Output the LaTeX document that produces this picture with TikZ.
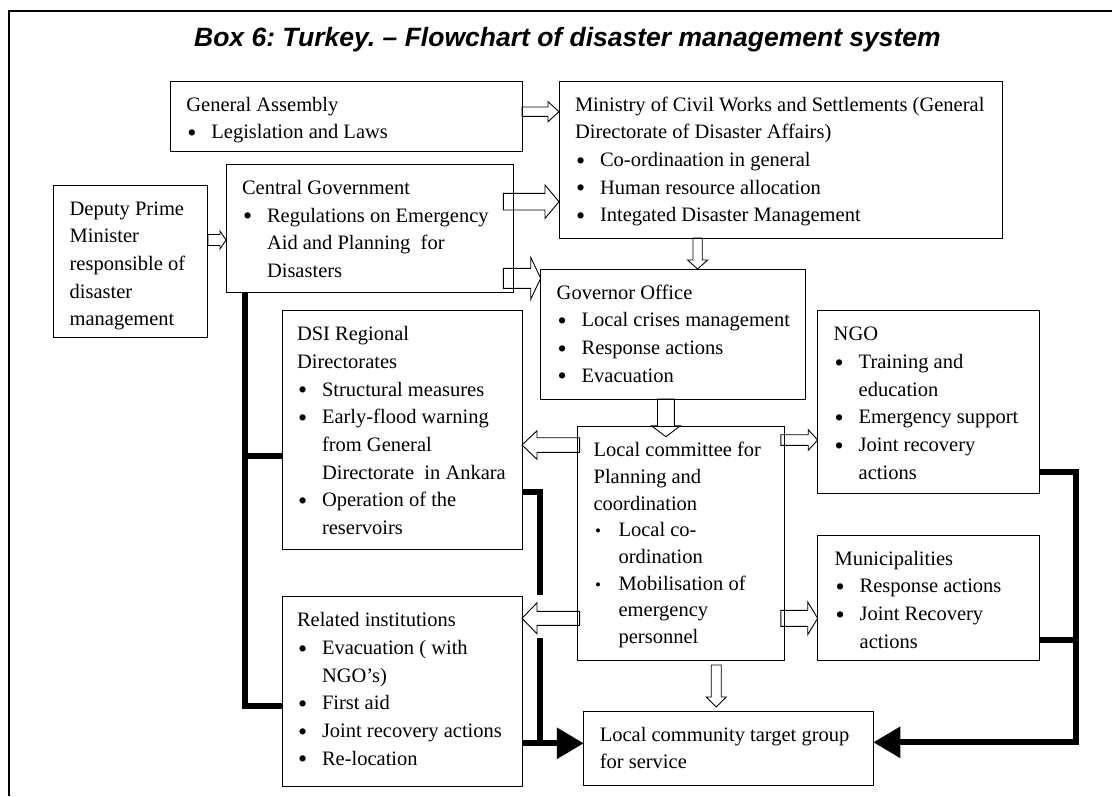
\documentclass[tikz,border=0pt]{standalone}
\usepackage{fontspec}
\setmainfont{Liberation Serif}
\newfontfamily\titlefont{Liberation Sans}
\usetikzlibrary{calc,arrows.meta,backgrounds}
\frenchspacing
\newcommand\TxL[1]{\hbox{#1}}
\newcommand\BuL[1]{\hbox{\hbox to 25pt{\hspace{1pt}\raisebox{-2.6pt}{\fontsize{26}{26}\selectfont\textbullet}\hss}#1}}
\newcommand\SmB[1]{\hbox{\hbox to 25pt{\hspace{1.5pt}{\fontsize{17}{17}\selectfont\textbullet}\hss}#1}}
\newcommand\CoL[1]{\hbox{\hspace{25pt}#1}}
\newcommand\HArr[5]{\draw[hollowarr] let \p1=(#1),\p2=(#2),\n1={sign(\x2-\x1)} in
 (\x1,{\y1+#3pt}) -- ({\x2-\n1*#5pt},{\y1+#3pt}) -- ({\x2-\n1*#5pt},{\y1+#4pt}) -- (\x2,\y1)
 -- ({\x2-\n1*#5pt},{\y1-#4pt}) -- ({\x2-\n1*#5pt},{\y1-#3pt}) -- (\x1,{\y1-#3pt}) -- cycle;}
\newcommand\VArr[5]{\draw[hollowarr] let \p1=(#1),\p2=(#2),\n1={sign(\y2-\y1)} in
 ({\x1-#3pt},\y1) -- ({\x1-#3pt},{\y2-\n1*#5pt}) -- ({\x1-#4pt},{\y2-\n1*#5pt}) -- (\x1,\y2)
 -- ({\x1+#4pt},{\y2-\n1*#5pt}) -- ({\x1+#3pt},{\y2-\n1*#5pt}) -- ({\x1+#3pt},\y1) -- cycle;}
\begin{document}
\begin{tikzpicture}[x=1pt,y=-1pt,
  bx/.style={draw,line width=0.9pt,anchor=north west,inner sep=0pt,outer sep=0pt},
  txt/.style={anchor=base west,inner sep=0pt,outer sep=0pt,font=\fontsize{20.5}{27.7}\selectfont},
  hollowarr/.style={draw,fill=white,line width=0.9pt,line join=miter},
  thickconn/.style={line width=6pt},
  solidtip/.style={-{Triangle[length=27pt,width=30pt]}}]
\useasboundingbox (0,0) rectangle (1112,796);
% frame
\draw[line width=2pt] (9.3,796) -- (9.3,11) -- (1112,11);
% title
\node[anchor=base,inner sep=0pt,font=\fontsize{26.5}{30}\selectfont\titlefont\bfseries\itshape] (title) at (567.5,46) {Box 6: Turkey. – Flowchart of disaster management system};
% boxes
\node[bx,minimum width=154.2pt,minimum height=152pt] (dpm) at (53.6,185) {};
\node[bx,minimum width=351.6pt,minimum height=70.7pt] (ga) at (170.4,81) {};
\node[bx,minimum width=287.3pt,minimum height=128.3pt] (cg) at (226,164.3) {};
\node[bx,minimum width=443.5pt,minimum height=157pt] (mcw) at (559,81) {};
\node[bx,minimum width=265pt,minimum height=130pt] (gov) at (540.7,269) {};
\node[bx,minimum width=240pt,minimum height=238.3pt] (dsi) at (282,310.7) {};
\node[bx,minimum width=221.6pt,minimum height=182.6pt] (ngo) at (817.7,310.7) {};
\node[bx,minimum width=206.7pt,minimum height=234pt] (lc) at (577.6,426.7) {};
\node[bx,minimum width=240pt,minimum height=189.3pt] (rel) at (282,596.7) {};
\node[bx,minimum width=221.6pt,minimum height=125.7pt] (mun) at (817.7,535) {};
\node[bx,minimum width=289.5pt,minimum height=74pt] (lcom) at (583.8,711) {};
% texts
\node[txt] (dpmT) at ([xshift=16pt,yshift=-30pt]dpm.north west) {\vtop{\TxL{Deputy Prime}\TxL{Minister}\TxL{responsible of}\TxL{disaster}\TxL{management}}};
\node[txt] (gaT) at ([xshift=16pt,yshift=-30pt]ga.north west) {\vtop{\TxL{General Assembly}\BuL{Legislation and Laws}}};
\node[txt] (cgT) at ([xshift=16pt,yshift=-30pt]cg.north west) {\vtop{\TxL{Central Government}\BuL{Regulations on Emergency}\CoL{Aid and Planning~ for}\CoL{Disasters}}};
\node[txt] (mcwT) at ([xshift=16pt,yshift=-30pt]mcw.north west) {\vtop{\TxL{Ministry of Civil Works and Settlements (General}\TxL{Directorate of Disaster Affairs)}\BuL{Co-ordinaation in general}\BuL{Human resource allocation}\BuL{Integated Disaster Management}}};
\node[txt] (govT) at ([xshift=16pt,yshift=-30pt]gov.north west) {\vtop{\TxL{Governor Office}\BuL{Local crises management}\BuL{Response actions}\BuL{Evacuation}}};
\node[txt] (dsiT) at ([xshift=15pt,yshift=-30pt]dsi.north west) {\vtop{\TxL{DSI Regional}\TxL{Directorates}\BuL{Structural measures}\BuL{Early-flood warning}\CoL{from General}\CoL{Directorate~ in Ankara}\BuL{Operation of the}\CoL{reservoirs}}};
\node[txt] (ngoT) at ([xshift=16pt,yshift=-30pt]ngo.north west) {\vtop{\TxL{NGO}\BuL{Training and}\CoL{education}\BuL{Emergency support}\BuL{Joint recovery}\CoL{actions}}};
\node[txt,font=\fontsize{20.5}{26.7}\selectfont] (lcT) at ([xshift=16pt,yshift=-30pt]lc.north west) {\vtop{\TxL{Local committee for}\TxL{Planning and}\TxL{coordination}\SmB{Local co-}\CoL{ordination}\SmB{Mobilisation of}\CoL{emergency}\CoL{personnel}}};
\node[txt] (relT) at ([xshift=15pt,yshift=-30pt]rel.north west) {\vtop{\TxL{Related institutions}\BuL{Evacuation ( with}\CoL{NGO’s)}\BuL{First aid}\BuL{Joint recovery actions}\BuL{Re-location}}};
\node[txt] (munT) at ([xshift=17pt,yshift=-30pt]mun.north west) {\vtop{\TxL{Municipalities}\BuL{Response actions}\BuL{Joint Recovery}\CoL{actions}}};
\node[txt,font=\fontsize{20.5}{26.6}\selectfont] (lcomT) at ([xshift=16pt,yshift=-30.7pt]lcom.north west) {\vtop{\TxL{Local community target group}\TxL{for service}}};
% connectors behind boxes
\begin{scope}[on background layer]
\coordinate (a1) at ([yshift=4.65pt]ga.east);
\HArr{a1}{mcw.west |- a1}{4.7}{10}{11}
\coordinate (a2) at ([yshift=21pt]dpm.east);
\HArr{a2}{cg.west |- a2}{5.5}{9}{6}
\coordinate (a3) at ([xshift=-10pt,yshift=26.75pt]cg.east);
\HArr{a3}{mcw.west |- a3}{8.3}{16.7}{14}
\coordinate (a4) at ([xshift=-10pt,yshift=-49.85pt]cg.east);
\HArr{a4}{gov.west |- a4}{10}{21}{10}
\coordinate (a5) at ([xshift=-83.15pt]mcw.south);
\VArr{a5}{a5 |- gov.north}{4.6}{10}{9}
\coordinate (a6) at ([xshift=-7.3pt]gov.south);
\coordinate (a6e) at ($(a6 |- lc.north)+(0,10)$);
\VArr{a6}{a6e}{8.4}{14.5}{11}
\coordinate (a7) at ([xshift=2pt,yshift=98.7pt]lc.west);
\HArr{a7}{dsi.east |- a7}{7.3}{14.3}{15}
\coordinate (a8) at ([xshift=2pt,yshift=-74.6pt]lc.west);
\HArr{a8}{rel.east |- a8}{7}{15.5}{15}
\coordinate (a9) at ([xshift=-3.5pt,yshift=103.7pt]lc.east);
\HArr{a9}{ngo.west |- a9}{5.3}{10.3}{9.5}
\coordinate (a10) at ([xshift=-3.5pt,yshift=-74.6pt]lc.east);
\HArr{a10}{mun.west |- a10}{8}{16.3}{10}
\coordinate (a11) at ([xshift=35.25pt,yshift=-4.3pt]lc.south);
\coordinate (a11e) at ($(a11 |- lcom.north)+(0,-4)$);
\VArr{a11}{a11e}{5}{10}{10}
% thick connectors
\coordinate (k1) at ([xshift=18.5pt]cg.south west);
\draw[thickconn] (k1) |- ([yshift=-14.65pt]rel.west);
\coordinate (dsiB) at ([yshift=-26.15pt]dsi.west);
\draw[thickconn] (k1 |- dsiB) -- (dsiB);
\coordinate (dsiR) at ([yshift=-62.45pt]dsi.east);
\coordinate (relR) at ([yshift=-51.95pt]rel.east);
\coordinate (v2) at ($(relR)+(18,0)$);
\draw[thickconn] (dsiR) -| ($(v2)+(0,-148)$);
\draw[thickconn] ($(v2)+(0,-105)$) -- (v2);
\draw[thickconn,solidtip] (relR) -- (lcom.west |- relR);
\coordinate (ngoR) at ([yshift=-70.3pt]ngo.east);
\coordinate (munR) at ([yshift=-42.15pt]mun.east);
\coordinate (lcomR) at ([yshift=5.7pt]lcom.east);
\draw[thickconn,solidtip] (ngoR) -- ++(36.2,0) |- (lcomR);
\draw[thickconn] (munR) -- ++(36.2,0);
\end{scope}
\end{tikzpicture}
\end{document}
